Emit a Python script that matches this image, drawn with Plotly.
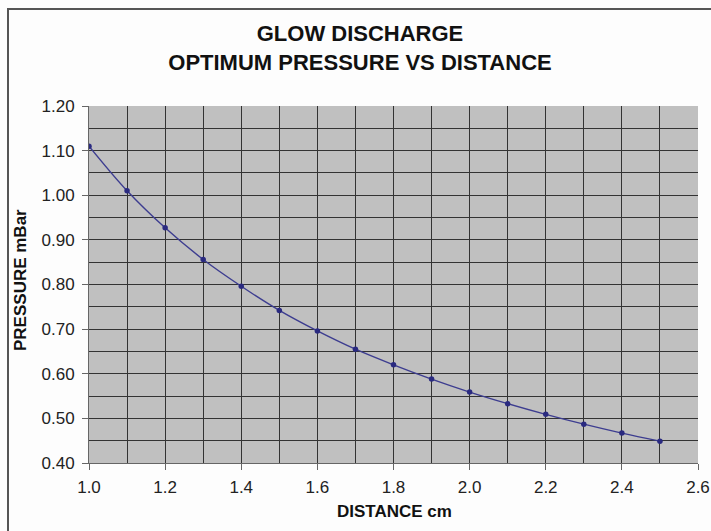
import plotly.graph_objects as go

distance = [1.0, 1.1, 1.2, 1.3, 1.4, 1.5, 1.6, 1.7, 1.8, 1.9, 2.0, 2.1, 2.2, 2.3, 2.4, 2.5]
pressure = [1.11, 1.01, 0.927, 0.856, 0.796, 0.742, 0.696, 0.655, 0.620, 0.588, 0.559, 0.533, 0.509, 0.487, 0.467, 0.449]

fig = go.Figure()
fig.add_trace(go.Scatter(
    x=distance, y=pressure, mode="lines+markers",
    line=dict(color="#3d3d90", width=1.4, shape="spline"),
    marker=dict(color="#2a2a80", size=5.5),
    showlegend=False,
))

L, R, T, B = 89, 13, 106, 68
W, H = 711, 531
pw = W - L - R
ph = H - T - B

def px_x(p):
    return (p - L) / pw

def px_y(p):
    return (H - B - p) / ph

fig.update_layout(
    width=W, height=H,
    margin=dict(l=L, r=R, t=T, b=B, autoexpand=False),
    paper_bgcolor="#fdfdfd",
    plot_bgcolor="#c0c0c0",
    font=dict(family="Liberation Sans, Arial, sans-serif", color="#222"),
    title=dict(
        text="<b>GLOW DISCHARGE<br>OPTIMUM PRESSURE VS DISTANCE</b>",
        x=px_x(360), xref="paper", xanchor="center",
        y=1 - 41 / H, yanchor="middle",
        font=dict(size=22, color="#111"),
    ),
    xaxis=dict(
        range=[1.0, 2.6], dtick=0.2, tick0=1.0, tickformat=".1f",
        showgrid=True, gridcolor="#333", gridwidth=1.3,
        minor=dict(dtick=0.1, showgrid=True, gridcolor="#333", gridwidth=1.3),
        showline=True, linecolor="#666", linewidth=1,
        ticks="outside", ticklen=6, tickcolor="#666",
        tickfont=dict(size=17, color="#222"), ticklabelstandoff=3,
        zeroline=False, automargin=False,
    ),
    yaxis=dict(
        range=[0.4, 1.2], dtick=0.1, tick0=0.4, tickformat=".2f",
        showgrid=True, gridcolor="#333", gridwidth=1.3,
        minor=dict(dtick=0.05, showgrid=True, gridcolor="#333", gridwidth=1.3),
        showline=True, linecolor="#666", linewidth=1,
        ticks="outside", ticklen=6, tickcolor="#666",
        tickfont=dict(size=17, color="#222"), ticklabelstandoff=4,
        zeroline=False, automargin=False,
    ),
    annotations=[
        dict(text="<b>DISTANCE cm</b>", xref="paper", yref="paper",
             x=px_x(394), y=px_y(511), xanchor="center", yanchor="middle",
             showarrow=False, font=dict(size=17, color="#111")),
        dict(text="<b>PRESSURE mBar</b>", xref="paper", yref="paper",
             x=px_x(20), y=px_y(280), xanchor="center", yanchor="middle",
             textangle=-90, showarrow=False, font=dict(size=17, color="#111")),
    ],
    shapes=[dict(
        type="rect", xref="paper", yref="paper",
        x0=px_x(8), x1=1.2, y0=-0.4, y1=px_y(9),
        line=dict(color="#555", width=2), fillcolor="rgba(0,0,0,0)", layer="below",
    )],
)

fig.write_html(
    "out.html",
    config={"displayModeBar": False},
    post_script="document.body.style.margin='0';document.body.style.overflow='hidden';",
)
